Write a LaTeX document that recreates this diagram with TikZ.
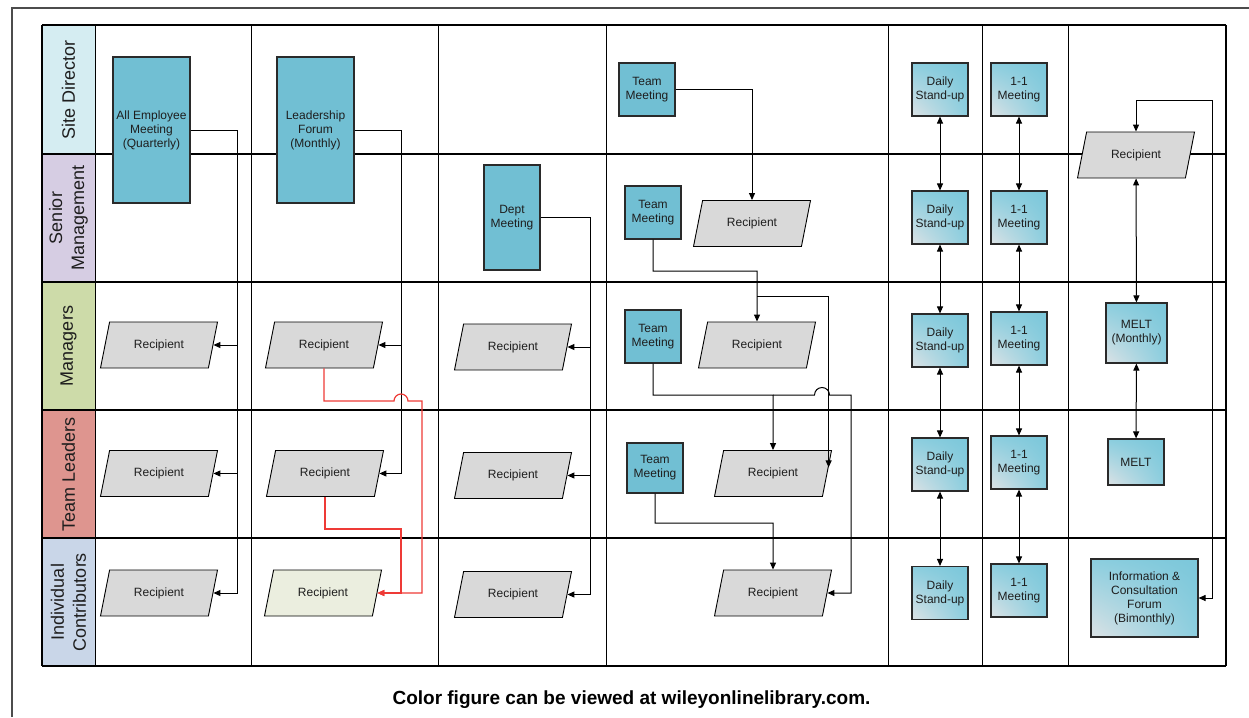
\documentclass[tikz,border=0pt]{standalone}
\usepackage{fontspec}
\setmainfont{Liberation Sans}
\usetikzlibrary{shapes.geometric,arrows.meta,calc,shadings}
\definecolor{meetfill}{HTML}{71BFD3}
\definecolor{shadehi}{HTML}{7BC7DA}
\definecolor{shadelo}{HTML}{DCE2E5}
\definecolor{recfill}{HTML}{D9D9D9}
\definecolor{recgreen}{HTML}{EBEEDF}
\definecolor{boxline}{HTML}{2A2A2A}
\definecolor{txtcol}{HTML}{1E1E1E}
\definecolor{hopred}{HTML}{EE3A36}
\definecolor{lanesd}{HTML}{D5EDF2}
\definecolor{lanesm}{HTML}{D6CDE3}
\definecolor{lanemg}{HTML}{CDDBA9}
\definecolor{lanetl}{HTML}{DE958F}
\definecolor{laneic}{HTML}{C9D6E8}
\begin{document}
\begin{tikzpicture}[x=1pt,y=-1pt,>={Triangle[length=7pt,width=6pt]},every node/.style={font=\fontsize{12}{14}\selectfont,text=txtcol}]
\tikzstyle{meeting} = [draw=boxline,line width=1.1pt,fill=meetfill,align=center,inner sep=1pt]
\tikzstyle{shaded} = [meeting,upper right=shadehi,upper left=shadehi!88!white,lower right=shadehi!88!white,lower left=shadelo]
\tikzstyle{recipient} = [trapezium,trapezium left angle=63,trapezium right angle=117,trapezium stretches body,minimum width=117,minimum height=46,draw=black,line width=0.9pt,fill=recfill]
\tikzstyle{lane} = [rotate=90,minimum width=128,minimum height=53,align=center,font=\fontsize{18}{22}\selectfont]
\tikzstyle{hl} = [->,color=hopred,line width=1.2pt]
\useasboundingbox (0,0) rectangle (1249,717);
\draw[line width=1.3pt,black!70] (12,717) -- (12,8) -- (1249,8);

% lanes
\node [lane,fill=lanesd] (v1) at (68.5,89.5) {Site Director};
\node [lane,fill=lanesm] (v2) at (68.5,218) {Senior\\Management};
\node [lane,fill=lanemg] (v3) at (68.5,346) {Managers};
\node [lane,fill=lanetl] (v4) at (68.5,474) {Team Leaders};
\node [lane,fill=laneic] (v5) at (68.5,602) {Individual\\Contributors};

% grid
\draw[line width=1.6pt] (42,25) -- (1226,25);
\draw[line width=1.6pt] (42,154) -- (1226,154);
\draw[line width=1.6pt] (42,282) -- (1226,282);
\draw[line width=1.6pt] (42,410) -- (1226,410);
\draw[line width=1.6pt] (42,538) -- (1226,538);
\draw[line width=1.6pt] (42,666) -- (1226,666);
\draw[line width=1.6pt] (42,25) -- (42,666);
\draw[line width=1pt] (95,25) -- (95,666);
\draw[line width=1pt] (251,25) -- (251,666);
\draw[line width=1pt] (438,25) -- (438,666);
\draw[line width=1pt] (606,25) -- (606,666);
\draw[line width=1pt] (888,25) -- (888,666);
\draw[line width=1pt] (982,25) -- (982,666);
\draw[line width=1pt] (1068,25) -- (1068,666);
\draw[line width=1.6pt] (1226,25) -- (1226,666);

\begin{scope}[line width=1pt]
\node [meeting,minimum width=77,minimum height=146] (v6) at (151.5,130) {All Employee\\Meeting\\(Quarterly)};
\node [recipient] (v7) at (159,345) {Recipient};
\node [recipient] (v8) at (159,473.5) {Recipient};
\node [recipient] (v9) at (159,593) {Recipient};
\coordinate (v10) at (237,130);
\draw[->] (v6.east) -- (v10) |- (v7.east);
\draw[->] (v10) |- (v8.east);
\draw[->] (v10) |- (v9.east);

\node [meeting,minimum width=77,minimum height=146] (v11) at (315.5,130) {Leadership\\Forum\\(Monthly)};
\node [recipient] (v12) at (324,345) {Recipient};
\node [recipient] (v13) at (325,473.5) {Recipient};
\node [recipient,fill=recgreen] (v14) at (323,593) {Recipient};
\coordinate (v15) at (401,130);
\coordinate (v16) at (401,401);
\coordinate (v17) at (422,401);
\coordinate (v18) at (401,529);
\draw[->] (v11.east) -- (v15) |- (v12.east);
\draw[->] (v15) |- (v13.east);
\draw[hl] (v12.south) |- ([xshift=-7pt]v16) arc[start angle=180,end angle=0,radius=7pt] -- (v17) |- (v14.east);
\draw[hl] (v13.south) |- (v18) |- (v14.east);

\node [meeting,minimum width=56,minimum height=105] (v19) at (512,217.5) {Dept\\Meeting};
\node [recipient] (v20) at (513,347) {Recipient};
\node [recipient] (v21) at (513,475.5) {Recipient};
\node [recipient] (v22) at (513,594.5) {Recipient};
\coordinate (v23) at (590,217.5);
\draw[->] (v19.east) -- (v23) |- (v20.east);
\draw[->] (v23) |- (v21.east);
\draw[->] (v23) |- (v22.east);

\node [meeting,minimum width=56,minimum height=53] (v24) at (647,89.5) {Team\\Meeting};
\node [recipient] (v25) at (752,223.5) {Recipient};
\node [meeting,minimum width=56,minimum height=53] (v26) at (653,212.5) {Team\\Meeting};
\node [recipient] (v27) at (757,345) {Recipient};
\node [meeting,minimum width=56,minimum height=53] (v28) at (653,336.5) {Team\\Meeting};
\node [recipient] (v29) at (773,473.5) {Recipient};
\node [meeting,minimum width=56,minimum height=50] (v30) at (655,468) {Team\\Meeting};
\node [recipient] (v31) at (773,593) {Recipient};
\coordinate (v32) at (757,271);
\coordinate (v33) at (757,296);
\coordinate (v34) at (773,395);
\coordinate (v35) at (822,395);
\coordinate (v36) at (851,395);
\coordinate (v37) at (773,523);
\draw[->] (v24.east) -| (v25.north);
\draw[->] (v26.south) |- (v32) -- (v27.north);
\draw[->] (v33) -| ($(v29.top right corner)!0.37!(v29.bottom right corner)$);
\draw[->] (v28.south) |- (v34) -- (v29.north);
\draw[->] (v34) -- ([xshift=-7.5pt]v35) arc[start angle=180,end angle=0,radius=7.5pt] -- (v36) |- (v31.east);
\draw[->] (v30.south) |- (v37) -- (v31.north);

\node [shaded,minimum width=56,minimum height=53] (v38) at (940,89.5) {Daily\\Stand-up};
\node [shaded,minimum width=56,minimum height=53] (v39) at (940,217.5) {Daily\\Stand-up};
\node [shaded,minimum width=56,minimum height=53] (v40) at (940,340.5) {Daily\\Stand-up};
\node [shaded,minimum width=56,minimum height=53] (v41) at (940,464.5) {Daily\\Stand-up};
\node [shaded,minimum width=56,minimum height=53] (v42) at (940,593) {Daily\\Stand-up};
\draw[<->] (v38) -- (v39);
\draw[<->] (v39) -- (v40);
\draw[<->] (v40) -- (v41);
\draw[<->] (v41) -- (v42);

\node [shaded,minimum width=56,minimum height=53] (v43) at (1019,89.5) {1-1\\Meeting};
\node [shaded,minimum width=56,minimum height=53] (v44) at (1019,217.5) {1-1\\Meeting};
\node [shaded,minimum width=56,minimum height=53] (v45) at (1019,338.5) {1-1\\Meeting};
\node [shaded,minimum width=56,minimum height=53] (v46) at (1019,462.5) {1-1\\Meeting};
\node [shaded,minimum width=56,minimum height=53] (v47) at (1019,590.5) {1-1\\Meeting};
\draw[<->] (v43) -- (v44);
\draw[<->] (v44) -- (v45);
\draw[<->] (v45) -- (v46);
\draw[<->] (v46) -- (v47);

\node [recipient] (v48) at (1136,155) {Recipient};
\node [shaded,minimum width=61,minimum height=60] (v49) at (1136.5,333) {MELT\\(Monthly)};
\node [shaded,minimum width=56,minimum height=46] (v50) at (1136,462) {MELT};
\node [shaded,minimum width=107,minimum height=78] (v51) at (1144.5,598) {Information \&\\Consultation\\Forum\\(Bimonthly)};
\coordinate (v52) at (1212,100);
\draw[<->] (v48) -- (v49);
\draw[<->] (v49) -- (v50);
\draw[<->] (v48.north) |- (v52) |- (v51.east);
\end{scope}

\node [font=\bfseries\fontsize{19}{22}\selectfont,text=black] (v53) at (631.5,700) {Color figure can be viewed at wileyonlinelibrary.com.};
\end{tikzpicture}
\end{document}
